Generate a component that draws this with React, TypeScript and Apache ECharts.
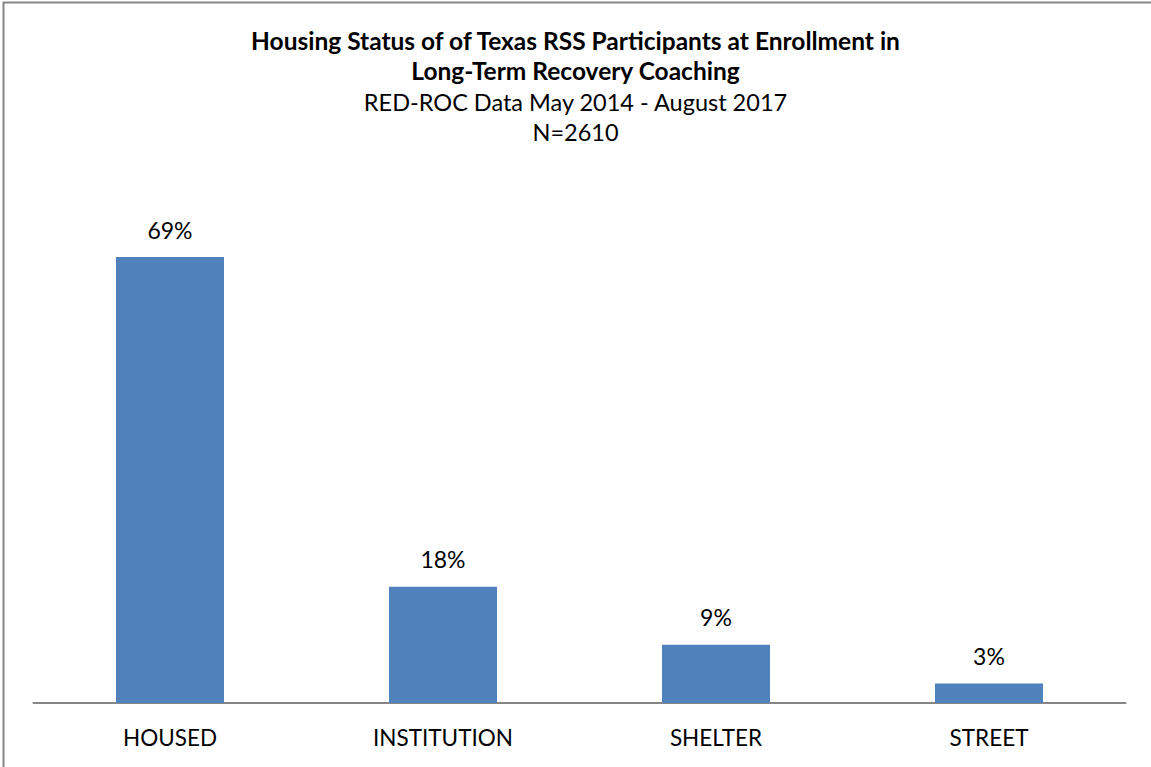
import React, { useEffect, useRef } from "react";
import * as echarts from "echarts";

const categories = ["HOUSED", "INSTITUTION", "SHELTER", "STREET"];
const percentValues = [69, 18, 9, 3];
const titleLines = [
  "Housing Status of of Texas RSS Participants at Enrollment in",
  "Long-Term Recovery Coaching",
];
const subtitleLines = ["RED-ROC Data May 2014 - August 2017", "N=2610"];

export default function App() {
  const ref = useRef<HTMLDivElement>(null);
  useEffect(() => {
    if (!ref.current) return;
    const chart = echarts.init(ref.current, null, { renderer: "svg" });
    const font = "Lato, 'Open Sans', sans-serif";
    chart.setOption({
      animation: false,
      backgroundColor: "#ffffff",
      title: [
        {
          text: titleLines.join("\n"),
          left: "center",
          top: 20,
          padding: 5,
          textStyle: { fontFamily: font, fontSize: 24.5, fontWeight: "bold", color: "#000", lineHeight: 30 },
        },
        {
          text: subtitleLines.join("\n"),
          left: "center",
          top: 82,
          padding: 5,
          textStyle: { fontFamily: font, fontSize: 23.5, fontWeight: "normal", color: "#000", lineHeight: 30 },
        },
      ],
      graphic: [
        {
          type: "rect",
          shape: { x: 3.5, y: 2.5, width: 1160, height: 780 },
          style: { fill: "none", stroke: "#868686", lineWidth: 2 },
          silent: true,
        },
      ],
      grid: { left: 33.5, right: 25.5, top: 186, bottom: 64, containLabel: false },
      xAxis: {
        type: "category",
        data: categories,
        axisLine: { show: true, lineStyle: { color: "#868686", width: 2 } },
        axisTick: { show: false },
        axisLabel: { fontFamily: font, fontSize: 22.5, color: "#000", margin: 23 },
      },
      yAxis: {
        type: "value",
        min: 0,
        max: 80,
        show: false,
        splitLine: { show: false },
      },
      series: [
        {
          type: "bar",
          data: percentValues,
          barWidth: 108,
          itemStyle: { color: "#4F81BD" },
          label: {
            show: true,
            position: "top",
            distance: 16,
            formatter: "{c}%",
            fontFamily: font,
            fontSize: 23,
            color: "#000",
          },
        },
      ],
    });
    return () => chart.dispose();
  }, []);
  return (
    <div style={{ position: "absolute", left: 0, top: 0, width: 1151, height: 767 }}>
      <div ref={ref} style={{ width: 1151, height: 767 }} />
    </div>
  );
}
